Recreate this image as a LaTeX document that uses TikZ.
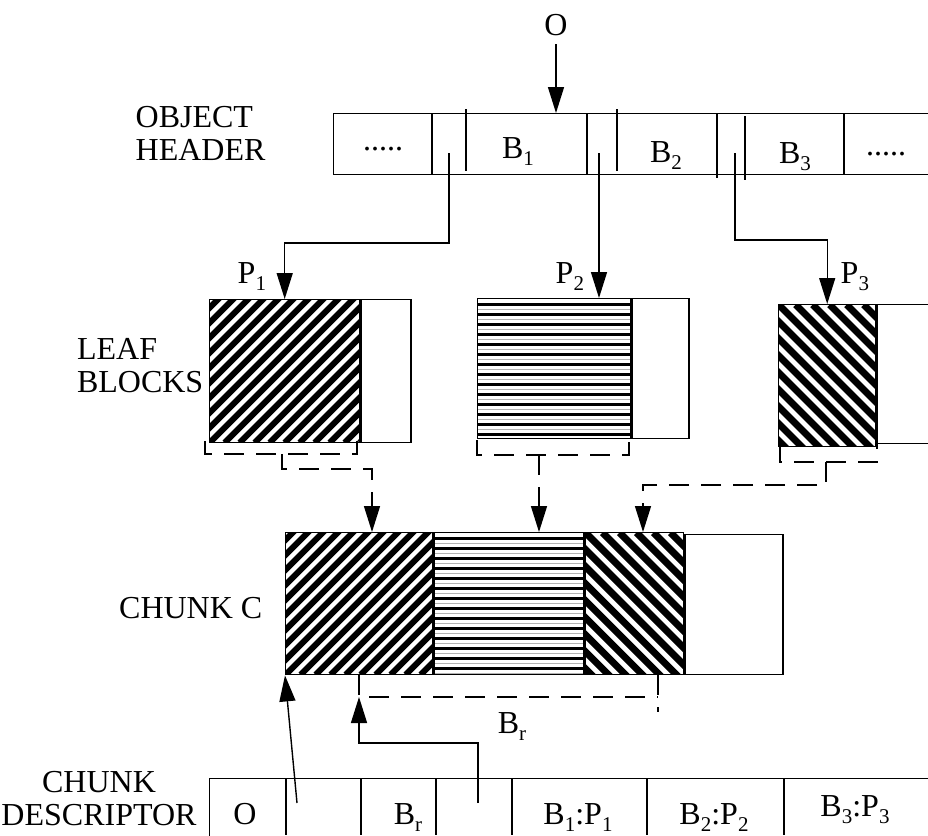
\documentclass[tikz,border=0pt]{standalone}
\usepackage{fontspec}
\setmainfont{Liberation Serif}
\usetikzlibrary{arrows.meta,positioning}
\newcommand{\ix}[1]{\raisebox{-7pt}{\fontsize{21}{21}\selectfont #1}}

\begin{document}
\begin{tikzpicture}[x=1pt,y=-1pt,line width=1.4pt,
  every node/.style={font=\fontsize{32}{33}\selectfont,inner sep=0pt},
  blk/.style={draw,fill=white,anchor=north west},
  ptr/.style={-{Triangle[length=26pt,width=16pt]}},
  dsh/.style={dash pattern=on 20pt off 12pt},
  hatchA/.style={path picture={
    \foreach \k in {-12,...,12}
      \draw[line width=6pt] ([xshift=\k*15pt]path picture bounding box.south west) -- ++(300pt,300pt);}},
  hatchB/.style={path picture={
    \foreach \k in {-12,...,12}
      \draw[line width=7pt] ([xshift=\k*17pt]path picture bounding box.north west) -- ++(300pt,-300pt);}},
  hatchH/.style={path picture={
    \foreach \k in {0,...,15} {
      \draw[line width=3.5pt] ([yshift=-6pt-\k*10pt]path picture bounding box.north west) -- ++(400pt,0pt);
      \draw[gray!60,line width=1.5pt] ([yshift=-11pt-\k*10pt]path picture bounding box.north west) -- ++(400pt,0pt);}}}]
  \useasboundingbox (0,0) rectangle (928,835);
  \clip (0,0) rectangle (928,835);

  % object header
  \node[anchor=base west,align=left] (lhdr) at (135,160) {OBJECT\\HEADER};
  \node[blk,minimum width=610pt,minimum height=61pt] (hdr) at (333,113) {};
  \foreach \x in {432,587,844} \draw (\x,113) -- (\x,174);
  \foreach \x/\a/\b in {466/109/171,617/109/171,717/113/178,745/116/180} \draw (\x,\a) -- (\x,\b);
  \node[anchor=base] (hd0) at (383,150) {.....};
  \node[anchor=base] (hb1) at (518,158) {B\ix{1}};
  \node[anchor=base] (hb2) at (666,162) {B\ix{2}};
  \node[anchor=base] (hb3) at (795,163) {B\ix{3}};
  \node[anchor=base] (hd9) at (886,155) {.....};
  \coordinate (p1) at (449,153);
  \coordinate (p2) at (599,153);
  \coordinate (p3) at (735,153);
  \node (o) at (556,25) {O};
  \draw[ptr,shorten <=8pt] (o.south) -- (o.south |- hdr.north);

  % leaf blocks
  \node[anchor=base east,align=left] (lleaf) at (204,392) {LEAF\\BLOCKS};
  \node[blk,hatchA,minimum width=150pt,minimum height=143pt] (lb1) at (209,299) {};
  \node[blk,minimum width=50pt,minimum height=143pt] (lw1) at (lb1.north east) {};
  \node[blk,hatchH,minimum width=153pt,minimum height=140pt] (lb2) at (477,298) {};
  \node[blk,minimum width=57pt,minimum height=140pt] (lw2) at (lb2.north east) {};
  \node[blk,hatchB,minimum width=97pt,minimum height=142pt] (lb3) at (778,304) {};
  \node[blk,minimum width=80pt,minimum height=139pt] (lw3) at (lb3.north east) {};
  \draw[ptr] (p1) -- ++(0,90) -| (lb1.north);
  \draw[ptr] (p2) -- (p2 |- lb2.north);
  \draw[ptr] (p3) -- ++(0,87) -| (lb3.north);
  \node[anchor=base west] (lp1) at (237,283) {P\ix{1}};
  \node[anchor=base west] (lp2) at (555,283) {P\ix{2}};
  \node[anchor=base west] (lp3) at (840,283) {P\ix{3}};

  % chunk
  \node[anchor=base east] (lchunk) at (263,618) {CHUNK C};
  \node[blk,hatchA,minimum width=147pt,minimum height=142pt] (cc1) at (285,532) {};
  \node[blk,hatchH,minimum width=150pt,minimum height=142pt] (cc2) at (cc1.north east) {};
  \node[blk,hatchB,minimum width=98pt,minimum height=142pt] (cc3) at (cc2.north east) {};
  \node[blk,minimum width=98pt,minimum height=140pt] (cc4) at ([yshift=-2pt]cc3.north east) {};
  \coordinate (t1) at (372,532);
  \coordinate (t2) at (539,532);
  \coordinate (t3) at (643,532);
  \coordinate (m1) at (282,454);
  \coordinate (m2) at (539,455);
  \coordinate (m3) at (826,462);
  \draw[dsh] (205,441) |- (357,454) -- (357,441);
  \draw[dsh] (477,440) |- (629,455) -- (629,440);
  \draw[dsh] (780,444) |- (877,462) -- (877,444);
  \draw[dsh,ptr] (m1) -- ++(0,15) -| (t1);
  \draw[dsh,ptr] (m2) -- (t2);
  \draw[dsh,ptr] (m3) -- ++(0,23) -| (t3);
  \coordinate (brl) at (359,697);
  \draw[dsh] (359,675) -- (brl) -- (658,697);
  \draw[dsh] (658,675) -- (658,712);
  \node[anchor=base] (br) at (512,733) {B\ix{r}};

  % chunk descriptor
  \node[anchor=base,align=center] (ldesc) at (99,825) {CHUNK\\DESCRIPTOR};
  \node[blk,minimum width=740pt,minimum height=70pt] (cd) at (209,778) {};
  \foreach \x in {286,361,436,512,647,784} \draw (\x,778) -- (\x,835);
  \node[anchor=base] (d0) at (245,824) {O};
  \node[anchor=base] (d1) at (408,824) {B\ix{r}};
  \node[anchor=base] (d2) at (578,824) {B\ix{1}:P\ix{1}};
  \node[anchor=base] (d3) at (714,824) {B\ix{2}:P\ix{2}};
  \node[anchor=base] (d4) at (855,816) {B\ix{3}:P\ix{3}};
  \coordinate (q1) at (297,803);
  \coordinate (q2) at (478,803);
  \draw[ptr] (q1) -- (cc1.south west);
  \draw[ptr] (q2) -- ++(0,-60) -| (brl);
\end{tikzpicture}
\end{document}
